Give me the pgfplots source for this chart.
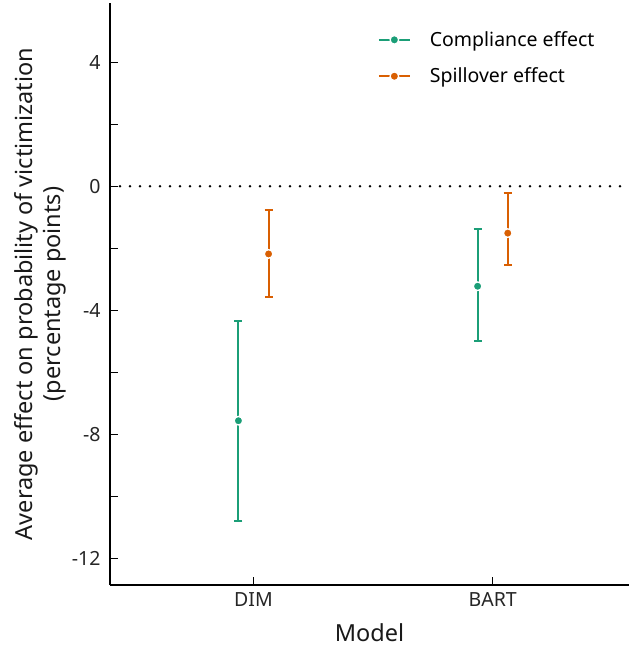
\documentclass[border=0pt]{standalone}
\usepackage{pgfplots}
\pgfplotsset{compat=1.18}
\usepackage{pgfplotstable}
\usepackage{fontspec}
\setmainfont{Noto Sans}
\setsansfont{Noto Sans}

\definecolor{compl}{HTML}{1B9E77}
\definecolor{spill}{HTML}{D95F02}

% x: DIM = 0, BART = 1, series shifted by +-0.063
\pgfplotstableread{
x      y      ep    em
-0.063 -7.55  3.22  3.22
0.937  -3.22  1.83  1.76
}\compliance
\pgfplotstableread{
x      y      ep    em
0.063  -2.18  1.40  1.39
1.063  -1.51  1.28  1.02
}\spillover

\pgfplotsset{
  effect/.style={
    color=#1, only marks, mark=*, mark size=4.3bp,
    mark options={fill=#1, draw=white, line width=1.3bp},
    error bars/y dir=both, error bars/y explicit,
    error bars/error bar style={line width=2bp, #1},
    error bars/error mark options={rotate=90, mark size=4bp, line width=2bp, #1},
    legend image code/.code={
      \draw[##1, sharp plot, line width=2bp, mark repeat=2, mark phase=2]
        plot coordinates {(0bp,0bp) (15.5bp,0bp) (31bp,0bp)};
    },
  },
}

\begin{document}
\begin{tikzpicture}
\begin{axis}[
  scale only axis,
  width=519bp, height=582bp,
  xmin=-0.6, xmax=1.57,
  ymin=-12.84, ymax=5.9,
  axis x line*=bottom, axis y line*=left,
  axis line style={line width=1.3bp, black},
  xtick={0,1}, xticklabels={DIM,BART},
  ytick={-12,-8,-4,0,4}, yticklabels={-12,-8,-4,0,4},
  minor ytick={-10,-6,-2,2},
  tick align=inside,
  major tick length=8bp, minor tick length=8bp,
  tick style={line width=1bp, black},
  ticklabel style={font=\fontsize{19.5bp}{22bp}\selectfont, text=black!85},
  xticklabel style={yshift=-4bp},
  yticklabel style={xshift=-6bp},
  xlabel={Model},
  ylabel={Average effect on probability of victimization\\(percentage points)},
  label style={font=\fontsize{23.5bp}{28bp}\selectfont, text=black!90},
  ylabel style={align=center, at={(rel axis cs:0,0.5)}, anchor=south,
    yshift=40bp},
  xlabel style={at={(rel axis cs:0.5,0)}, anchor=center, yshift=-48bp},
  legend style={draw=none, fill=none, at={(0.51,0.958)}, anchor=north west,
    font=\fontsize{19.5bp}{22bp}\selectfont, row sep=16bp,
    /tikz/every odd column/.append style={column sep=17bp}},
  legend cell align=left,
]
\addplot[black, line width=2.6bp, line cap=round, dash pattern=on 0bp off 10bp, forget plot]
  coordinates {(-0.6,0) (1.57,0)};
\addplot[effect=compl] table[x=x, y=y, y error plus=ep, y error minus=em] {\compliance};
\addlegendentry{Compliance effect}
\addplot[effect=spill] table[x=x, y=y, y error plus=ep, y error minus=em] {\spillover};
\addlegendentry{Spillover effect}
\end{axis}
\pgfresetboundingbox
\path (current axis.south west) ++(-110bp,-64bp) coordinate (bl);
\path (current axis.north east) ++(1bp,3bp) coordinate (tr);
\path (bl) rectangle (tr);
\end{tikzpicture}
\end{document}
